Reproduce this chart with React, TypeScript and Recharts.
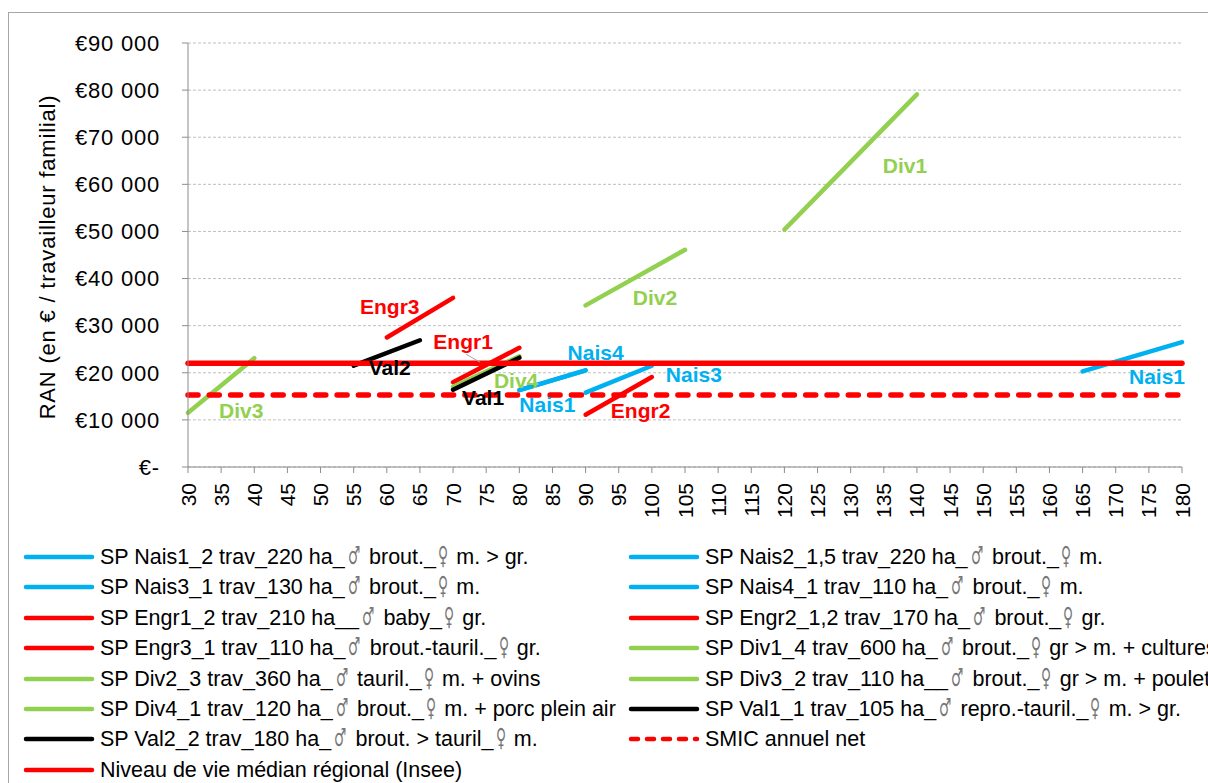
import React from 'react'
import { LineChart, Line, XAxis, YAxis, CartesianGrid, Legend } from 'recharts'

// x ticks (axis 30 → 180) and y ticks (€)
const xTicks = [30, 35, 40, 45, 50, 55, 60, 65, 70, 75, 80, 85, 90, 95, 100, 105, 110, 115, 120, 125, 130, 135, 140, 145, 150, 155, 160, 165, 170, 175, 180]
const yTicks = [0, 10000, 20000, 30000, 40000, 50000, 60000, 70000, 80000, 90000]

// each farm = a segment (start / end)
const nais1 = [{ x: 165, y: 20300 }, { x: 180, y: 26500 }]
const nais2 = [{ x: 80, y: 16300 }, { x: 90, y: 20500 }]
const nais3 = [{ x: 90, y: 15800 }, { x: 100, y: 21500 }]
const nais4 = [{ x: 80, y: 16300 }, { x: 90, y: 20500 }]
const engr1 = [{ x: 70, y: 18000 }, { x: 80, y: 25300 }]
const engr2 = [{ x: 90, y: 11100 }, { x: 100, y: 19100 }]
const engr3 = [{ x: 60, y: 27500 }, { x: 70, y: 35900 }]
const div1 = [{ x: 120, y: 50400 }, { x: 140, y: 79100 }]
const div2 = [{ x: 90, y: 34300 }, { x: 105, y: 46100 }]
const div3 = [{ x: 30, y: 11500 }, { x: 40, y: 23100 }]
const div4 = [{ x: 70, y: 17000 }, { x: 80, y: 23500 }]
const val1 = [{ x: 70, y: 16400 }, { x: 80, y: 23200 }]
const val2 = [{ x: 55, y: 21500 }, { x: 65, y: 26900 }]
const smic = [{ x: 30, y: 15300 }, { x: 180, y: 15300 }]
const median = [{ x: 30, y: 22000 }, { x: 180, y: 22000 }]

const BLUE = '#00B0F0'
const RED = '#FF0000'
const GREEN = '#92D050'
const BLACK = '#000000'
const FONT = '"Liberation Sans", Arial, sans-serif'

type Tag = { text: string; at: number; dx: number; dy: number; leader?: boolean }
type Serie = { key: string; name: string; data: { x: number; y: number }[]; color: string; width?: number; dash?: string; tag?: Tag }

const series: Serie[] = [
  { key: 'nais1', name: 'SP Nais1_2 trav_220 ha_♂ brout._♀ m. > gr.', data: nais1, color: BLUE, tag: { text: 'Nais1', at: 1, dx: -25, dy: 34 } },
  { key: 'nais2', name: 'SP Nais2_1,5 trav_220 ha_♂ brout._♀ m.', data: nais2, color: BLUE, tag: { text: 'Nais1', at: 0, dx: 28, dy: 14 } },
  { key: 'nais3', name: 'SP Nais3_1 trav_130 ha_♂ brout._♀ m.', data: nais3, color: BLUE, tag: { text: 'Nais3', at: 1, dx: 42, dy: 9 } },
  { key: 'nais4', name: 'SP Nais4_1 trav_110 ha_♂ brout._♀ m.', data: nais4, color: BLUE, tag: { text: 'Nais4', at: 1, dx: 10, dy: -18 } },
  { key: 'engr1', name: 'SP Engr1_2 trav_210 ha__♂ baby_♀ gr.', data: engr1, color: RED, tag: { text: 'Engr1', at: 0, dx: 10, dy: -41, leader: true } },
  { key: 'engr2', name: 'SP Engr2_1,2 trav_170 ha_♂ brout._♀ gr.', data: engr2, color: RED, tag: { text: 'Engr2', at: 0, dx: 55, dy: -4 } },
  { key: 'engr3', name: 'SP Engr3_1 trav_110 ha_♂ brout.-tauril._♀ gr.', data: engr3, color: RED, tag: { text: 'Engr3', at: 0, dx: 3, dy: -31 } },
  { key: 'div1', name: 'SP Div1_4 trav_600 ha_♂ brout._♀ gr > m. + cultures', data: div1, color: GREEN, tag: { text: 'Div1', at: 1, dx: -12, dy: 71 } },
  { key: 'div2', name: 'SP Div2_3 trav_360 ha_♂ tauril._♀ m. + ovins', data: div2, color: GREEN, tag: { text: 'Div2', at: 1, dx: -30, dy: 48 } },
  { key: 'div3', name: 'SP Div3_2 trav_110 ha__♂ brout._♀ gr > m. + poulets', data: div3, color: GREEN, tag: { text: 'Div3', at: 1, dx: -13, dy: 52 } },
  { key: 'div4', name: 'SP Div4_1 trav_120 ha_♂ brout._♀ m. + porc plein air', data: div4, color: GREEN, tag: { text: 'Div4', at: 0, dx: 63, dy: -6 } },
  { key: 'val1', name: 'SP Val1_1 trav_105 ha_♂ repro.-tauril._♀ m. > gr.', data: val1, color: BLACK, tag: { text: 'Val1', at: 0, dx: 30, dy: 8 } },
  { key: 'val2', name: 'SP Val2_2 trav_180 ha_♂ brout. > tauril_♀ m.', data: val2, color: BLACK, tag: { text: 'Val2', at: 0, dx: 36, dy: 2 } },
  { key: 'smic', name: 'SMIC annuel net', data: smic, color: RED, width: 5.5, dash: '10 11.3' },
  { key: 'median', name: 'Niveau de vie médian régional (Insee)', data: median, color: RED, width: 5.5 },
]

const fmtEuro = (v: number) => (v === 0 ? '€-' : `€${v / 1000} 000`)

const XTick = ({ x, y, payload }: any) => (
  <text
    x={x}
    y={y}
    transform={`rotate(-90 ${x} ${y})`}
    textAnchor="end"
    dominantBaseline="central"
    fontSize={21}
    fontFamily={FONT}
    fill="#000"
  >
    {payload.value}
  </text>
)

const makeTag = (s: Serie) => (props: any) => {
  const t = s.tag
  if (!t || props.index !== t.at) return null
  const px = props.viewBox?.x ?? props.x
  const py = props.viewBox?.y ?? props.y
  const cx = px + t.dx
  const cy = py + t.dy
  return (
    <g key={`tag-${s.key}`}>
      {t.leader && <line x1={cx + 3} y1={cy + 13} x2={cx + 17} y2={cy + 21} stroke="#A6A6A6" strokeWidth={1} />}
      <text x={cx} y={cy} textAnchor="middle" dominantBaseline="central" fontSize={21} fontWeight="bold" fontFamily={FONT} fill={s.color}>
        {t.text}
      </text>
    </g>
  )
}

// ♂ / ♀ : tall, narrow and light, like in the original legend
const withSymbols = (txt: string) =>
  txt.split(/([♂♀])/).map((part, i) =>
    part === '♂' || part === '♀' ? (
      <span
        key={i}
        style={{
          display: 'inline-block',
          fontFamily: '"DejaVu Sans", sans-serif',
          color: '#777',
          fontSize: 25,
          lineHeight: '20px',
          transform: 'scaleX(0.55)',
          margin: '0 -2px',
        }}
      >
        {part}
      </span>
    ) : (
      <span key={i}>{part}</span>
    )
  )

const LegendBox = () => (
  <div style={{ position: 'relative', width: 1208, height: 243, fontFamily: FONT, fontSize: 21.5, color: '#000' }}>
    {series.map((s, i) => {
      const col = i % 2
      const row = Math.floor(i / 2)
      const top = 17 + row * 30.4
      const left = col === 0 ? 23 : 628
      return (
        <div key={s.key} style={{ position: 'absolute', left, top: top - 13, height: 26, display: 'flex', alignItems: 'center', whiteSpace: 'nowrap' }}>
          <svg width={72} height={10} style={{ marginRight: 5, flex: 'none' }}>
            <line x1={3} y1={5} x2={69} y2={5} stroke={s.color} strokeWidth={4.5} strokeLinecap="round" strokeDasharray={s.dash ? '7 9' : undefined} />
          </svg>
          <span style={{ lineHeight: '24px' }}>{withSymbols(s.name)}</span>
        </div>
      )
    })}
  </div>
)

export default function App() {
  return (
    <div style={{ position: 'fixed', left: 0, top: 0, width: 1208, height: 783, overflow: 'hidden', background: '#fff' }}>
      <div style={{ position: 'absolute', left: 8, top: 12, width: 1400, height: 1000, border: '1.5px solid #A6A6A6' }} />
      <div style={{ position: 'absolute', left: 0, top: 0 }}>
        <LineChart width={1208} height={783} margin={{ top: 43, right: 26, bottom: 256, left: 88 }}>
          <CartesianGrid vertical={false} stroke="#BFBFBF" strokeDasharray="3 2" />
          <XAxis
            type="number"
            dataKey="x"
            domain={[30, 180]}
            ticks={xTicks}
            interval={0}
            height={60}
            tick={<XTick />}
            tickSize={6}
            tickMargin={10}
            stroke="#8C8C8C"
            allowDuplicatedCategory={false}
          />
          <YAxis
            type="number"
            domain={[0, 90000]}
            ticks={yTicks}
            interval={0}
            width={100}
            tickSize={6}
            tickMargin={22}
            tickFormatter={fmtEuro}
            tick={{ fontSize: 22, fontFamily: FONT, fill: '#000', letterSpacing: 0.8 }}
            stroke="#8C8C8C"
            label={() => (
              <text x={47} y={257} transform="rotate(-90 47 257)" textAnchor="middle" dominantBaseline="central" fontSize={22} letterSpacing={0.8} fontFamily={FONT} fill="#000">
                RAN (en € / travailleur familial)
              </text>
            )}
          />
          <Legend verticalAlign="middle" align="center" layout="horizontal" wrapperStyle={{ top: 540, left: 0, width: 1208, height: 243 }} content={() => <LegendBox />} />
          {series.map(s => (
            <Line
              key={s.key}
              data={s.data}
              dataKey="y"
              name={s.name}
              type="linear"
              stroke={s.color}
              strokeWidth={s.width ?? 4.5}
              strokeDasharray={s.dash}
              strokeLinecap="round"
              dot={false}
              activeDot={false}
              label={s.tag ? makeTag(s) : false}
              isAnimationActive={false}
            />
          ))}
        </LineChart>
      </div>
    </div>
  )
}
